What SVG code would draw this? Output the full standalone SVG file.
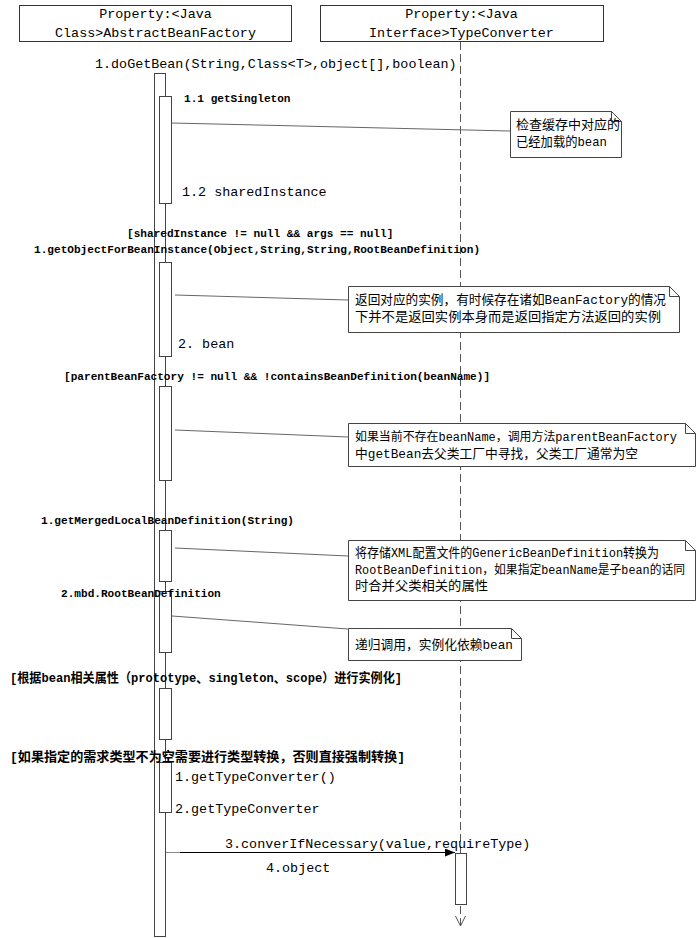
<svg xmlns="http://www.w3.org/2000/svg" width="696" height="938" viewBox="0 0 696 938">
<style>
.box{fill:#fff;stroke:#333;stroke-width:1}
.bar{fill:#fff;stroke:#444;stroke-width:1}
.note{fill:#fff;stroke:#444;stroke-width:1}
.fold{fill:none;stroke:#444;stroke-width:1}
.nl{stroke:#666;stroke-width:1;fill:none}
.life{stroke:#555;stroke-width:1;stroke-dasharray:8 4;fill:none}
.msg{stroke:#000;stroke-width:1;fill:none}
text{fill:#000}
.t{font-family:"Liberation Mono","Noto Sans CJK SC",monospace;font-size:13.4px}
.s{font-family:"Liberation Mono","Noto Sans CJK SC",monospace;font-size:11.1px;font-weight:bold}
.c{font-family:"Liberation Mono","Noto Sans CJK SC",monospace;font-size:13px;font-weight:bold}
.n{font-family:"Liberation Mono","Noto Sans CJK SC",monospace;font-size:13px}
.nn{font-size:12px}
</style>
<defs>
<marker id="fa" viewBox="0 0 10 8" refX="10" refY="4" markerWidth="10" markerHeight="8" markerUnits="userSpaceOnUse" orient="auto">
<path d="M0,0 L10,4 L0,8 Z" fill="#000"/>
</marker>
</defs>

<g id="lifeline-abstractbeanfactory">
<rect class="box" x="19.5" y="5.5" width="272" height="36"/>
<text class="t" x="155.5" y="18" text-anchor="middle">Property:&lt;Java</text>
<text class="t" x="155.5" y="37" text-anchor="middle">Class&gt;AbstractBeanFactory</text>
<rect class="bar" x="154.5" y="73.5" width="11" height="863"/>
</g>

<g id="lifeline-typeconverter">
<rect class="box" x="320.5" y="5.5" width="283" height="36"/>
<text class="t" x="461.5" y="18" text-anchor="middle">Property:&lt;Java</text>
<text class="t" x="461.5" y="37" text-anchor="middle">Interface&gt;TypeConverter</text>
<line class="life" x1="460.5" y1="42" x2="460.5" y2="925"/>
<polyline class="msg" style="stroke:#555" points="455.5,916 460.5,926 465.5,916"/>
<rect class="bar" x="455.5" y="853.5" width="11" height="51"/>
</g>

<g id="activations">
<rect class="bar" x="159.5" y="96.5" width="12" height="107"/>
<rect class="bar" x="159.5" y="262.5" width="12" height="94"/>
<rect class="bar" x="159.5" y="386.5" width="12" height="94"/>
<rect class="bar" x="159.5" y="530.5" width="12" height="51"/>
<rect class="bar" x="159.5" y="591.5" width="12" height="61"/>
<rect class="bar" x="159.5" y="688.5" width="12" height="51"/>
<rect class="bar" x="159.5" y="762.5" width="12" height="50"/>
</g>

<g id="connectors">
<line class="nl" x1="172" y1="123" x2="510" y2="131"/>
<line class="nl" x1="175" y1="295" x2="348" y2="300"/>
<line class="nl" x1="175" y1="430" x2="348" y2="437"/>
<line class="nl" x1="175" y1="548" x2="348" y2="556"/>
<line class="nl" x1="172" y1="616" x2="348" y2="629"/>
<line x1="166" y1="852.5" x2="180" y2="852.5" stroke="#888" stroke-width="1"/>
<line class="msg" x1="180" y1="852.5" x2="455" y2="852.5" marker-end="url(#fa)"/>
<text class="t" x="95" y="68">1.doGetBean(String,Class&lt;T&gt;,object[],boolean)</text>
<text class="s" x="184" y="102">1.1 getSingleton</text>
<text class="t" x="182" y="196">1.2 sharedInstance</text>
<text class="s" x="127" y="237">[sharedInstance != null &amp;&amp; args == null]</text>
<text class="s" x="34" y="253">1.getObjectForBeanInstance(Object,String,String,RootBeanDefinition)</text>
<text class="t" x="178" y="348">2. bean</text>
<text class="s" x="64" y="380">[parentBeanFactory != null &amp;&amp; !containsBeanDefinition(beanName)]</text>
<text class="s" x="41" y="524">1.getMergedLocalBeanDefinition(String)</text>
<text class="s" x="61" y="597">2.mbd.RootBeanDefinition</text>
<text class="c" x="10" y="682" textLength="392" lengthAdjust="spacingAndGlyphs">[根据bean相关属性（prototype、singleton、scope）进行实例化]</text>
<text class="c" x="10" y="761" textLength="395" lengthAdjust="spacingAndGlyphs">[如果指定的需求类型不为空需要进行类型转换，否则直接强制转换]</text>
<text class="t" x="175" y="781">1.getTypeConverter()</text>
<text class="t" x="175" y="813">2.getTypeConverter</text>
<text class="t" x="225" y="848">3.converIfNecessary(value,requireType)</text>
<text class="t" x="266" y="872">4.object</text>
</g>

<g id="note-1">
<polygon class="note" points="510.5,111.5 611.5,111.5 621.5,121.5 621.5,157.5 510.5,157.5"/>
<polyline class="fold" points="611.5,111.5 611.5,121.5 621.5,121.5"/>
<text class="n" x="516" y="129" textLength="104" lengthAdjust="spacingAndGlyphs">检查缓存中对应的</text>
<text class="n" x="516" y="146" textLength="91" lengthAdjust="spacingAndGlyphs">已经加载的bean</text>
</g>

<g id="note-2">
<polygon class="note" points="348.5,286.5 669.5,286.5 679.5,296.5 679.5,332.5 348.5,332.5"/>
<polyline class="fold" points="669.5,286.5 669.5,296.5 679.5,296.5"/>
<text class="n" x="355" y="304" textLength="311" lengthAdjust="spacingAndGlyphs">返回对应的实例，有时候存在诸如BeanFactory的情况</text>
<text class="n" x="355" y="321" textLength="306" lengthAdjust="spacingAndGlyphs">下并不是返回实例本身而是返回指定方法返回的实例</text>
</g>

<g id="note-3">
<polygon class="note" points="348.5,423.5 685.5,423.5 695.5,433.5 695.5,466.5 348.5,466.5"/>
<polyline class="fold" points="685.5,423.5 685.5,433.5 695.5,433.5"/>
<text class="n nn" x="355" y="441" textLength="322" lengthAdjust="spacingAndGlyphs">如果当前不存在beanName，调用方法parentBeanFactory</text>
<text class="n" x="355" y="458" textLength="283" lengthAdjust="spacingAndGlyphs">中getBean去父类工厂中寻找，父类工厂通常为空</text>
</g>

<g id="note-4">
<polygon class="note" points="348.5,540.5 685.5,540.5 695.5,550.5 695.5,600.5 348.5,600.5"/>
<polyline class="fold" points="685.5,540.5 685.5,550.5 695.5,550.5"/>
<text class="n" x="355" y="557" textLength="304" lengthAdjust="spacingAndGlyphs">将存储XML配置文件的GenericBeanDefinition转换为</text>
<text class="n nn" x="355" y="574" textLength="330" lengthAdjust="spacingAndGlyphs">RootBeanDefinition，如果指定beanName是子bean的话同</text>
<text class="n" x="355" y="590" textLength="133" lengthAdjust="spacingAndGlyphs">时合并父类相关的属性</text>
</g>

<g id="note-5">
<polygon class="note" points="348.5,628.5 511.5,628.5 521.5,638.5 521.5,660.5 348.5,660.5"/>
<polyline class="fold" points="511.5,628.5 511.5,638.5 521.5,638.5"/>
<text class="n" x="355" y="649" textLength="158" lengthAdjust="spacingAndGlyphs">递归调用，实例化依赖bean</text>
</g>
</svg>
